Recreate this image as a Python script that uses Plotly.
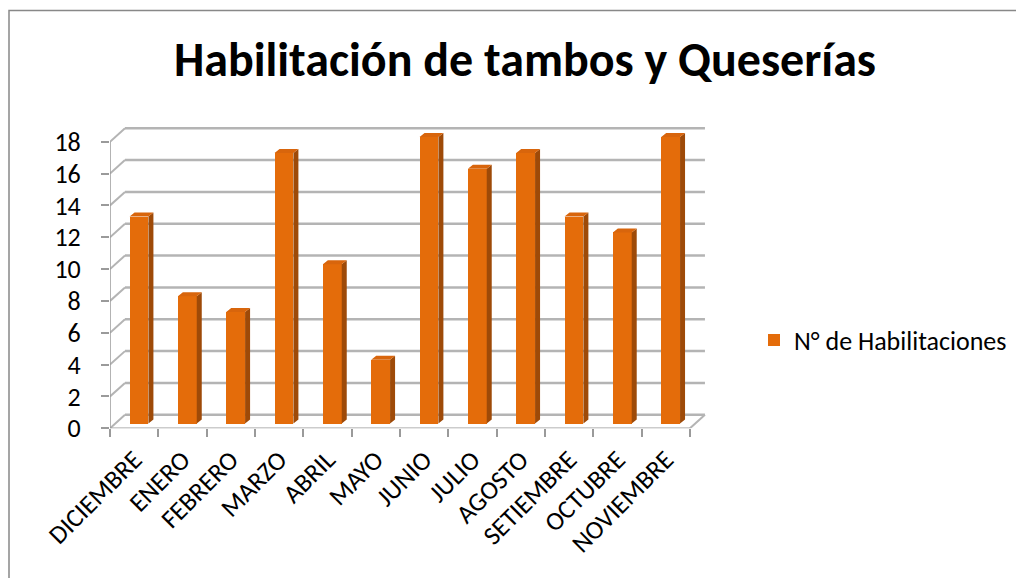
import plotly.graph_objects as go

# ---- data ----
categories = ["DICIEMBRE", "ENERO", "FEBRERO", "MARZO", "ABRIL", "MAYO",
              "JUNIO", "JULIO", "AGOSTO", "SETIEMBRE", "OCTUBRE", "NOVIEMBRE"]
values = [13, 8, 7, 17, 10, 4, 18, 16, 17, 13, 12, 18]
y_ticks = [0, 2, 4, 6, 8, 10, 12, 14, 16, 18]
series_name = "N° de Habilitaciones"
title_text = "Habilitación de tambos y Queserías"

# ---- geometry / style ----
W, H = 1024, 578
OX, OY = 8, 8         # page body margin compensation
FONT = "Carlito, Lato, 'Liberation Sans', sans-serif"
PX_X = 48.33          # px per category
PX_Y = 15.92          # px per unit
X0_PX = 110 - OX      # left of plot (category 0)
Y0_PX = 428.3 - OY    # value 0
X_RANGE = [0, 12.4]
Y_TOP_PX = 100 - OY
Y_RANGE = [0, (Y0_PX - Y_TOP_PX) / PX_Y]
DX = 15 / PX_X        # back-wall depth offset
DY = 13.5 / PX_Y
OFF = 0.3             # bar front base offset
BAR_W = 0.39
BAR_POS = 0.6
SDX = 5 / PX_X
SDY = 4 / PX_Y

FRONT = "#E46C0A"
SIDE = "#9E4A08"
TOP = "#D8650C"
GRID = "#B4B4B4"
AXIS = "#9A9A9A"

n = len(categories)
xc = [i + BAR_POS for i in range(n)]

fig = go.Figure()

sx, sy, tx, ty = [], [], [], []
for c, v in zip(xc, values):
    xl, xr = c - BAR_W / 2, c + BAR_W / 2
    sx += [xr, xr + SDX, xr + SDX, xr, xr, None]
    sy += [OFF, OFF + SDY, OFF + v + SDY, OFF + v, OFF, None]
    tx += [xl, xr, xr + SDX, xl + SDX, xl, None]
    ty += [OFF + v, OFF + v, OFF + v + SDY, OFF + v + SDY, OFF + v, None]

fig.add_trace(go.Scatter(x=sx, y=sy, fill="toself", fillcolor=SIDE, mode="lines",
                         line=dict(width=0, color=SIDE), showlegend=False, hoverinfo="skip"))
fig.add_trace(go.Scatter(x=tx, y=ty, fill="toself", fillcolor=TOP, mode="lines",
                         line=dict(width=0, color=TOP), showlegend=False, hoverinfo="skip"))
fig.add_trace(go.Bar(x=xc, y=values, base=OFF, width=BAR_W, name=series_name,
                     marker=dict(color=FRONT, line=dict(width=0)), showlegend=True))

shapes = []
for v in y_ticks:
    shapes.append(dict(type="line", xref="x", yref="y", x0=0, y0=v, x1=DX, y1=v + DY,
                       line=dict(color=GRID, width=2), layer="below"))
    shapes.append(dict(type="line", xref="x", yref="y", x0=DX, y0=v + DY, x1=n + DX, y1=v + DY,
                       line=dict(color=GRID, width=2.5), layer="below"))
shapes.append(dict(type="line", xref="x", yref="y", x0=n, y0=0, x1=n + DX, y1=DY,
                   line=dict(color=GRID, width=2), layer="below"))
shapes.append(dict(type="line", xref="x", yref="y", x0=0, y0=0, x1=0, y1=max(y_ticks),
                   line=dict(color=AXIS, width=1.5), layer="below"))
shapes.append(dict(type="line", xref="x", yref="y", x0=0, y0=0, x1=n, y1=0,
                   line=dict(color=AXIS, width=1.5), layer="below"))
shapes.append(dict(type="rect", xref="paper", yref="paper", x0=1 / W, y0=-0.05, x1=1.05,
                   y1=1 - 2.5 / H,
                   line=dict(color="#888888", width=1.5), fillcolor="rgba(0,0,0,0)"))

x_dom = [X0_PX / W, (X0_PX + (X_RANGE[1] - X_RANGE[0]) * PX_X) / W]
y_dom = [(H - Y0_PX) / H, (H - Y_TOP_PX) / H]

fig.update_layout(
    width=W, height=H,
    margin=dict(l=0, r=0, t=0, b=0, autoexpand=False),
    paper_bgcolor="white", plot_bgcolor="white",
    font=dict(family=FONT, color="black"),
    title=dict(text="<b>" + title_text + "</b>", x=(525 - OX) / W, xanchor="center",
               xref="container", yref="container",
               y=1 - (59 - OY) / H, yanchor="middle",
               font=dict(size=48, family=FONT, color="black")),
    xaxis=dict(domain=x_dom, range=X_RANGE, showgrid=False, zeroline=False, showline=False,
               tickmode="array", tickvals=[i + 0.5 for i in range(n)], ticktext=categories,
               ticks="", tickangle=-45, tickfont=dict(size=26, family=FONT, color="black"),
               ticklabelstandoff=10,
               minor=dict(tick0=0, dtick=1, ticks="outside", ticklen=8, tickcolor=AXIS,
                          tickwidth=1.5, showgrid=False),
               automargin=False, fixedrange=True),
    yaxis=dict(domain=y_dom, range=Y_RANGE, showgrid=False, zeroline=False, showline=False,
               tickmode="array", tickvals=y_ticks, ticks="outside", ticklen=8, tickcolor=AXIS,
               tickwidth=1.5, tickfont=dict(size=26, family=FONT, color="black"),
               ticklabelstandoff=15, automargin=False, fixedrange=True),
    legend=dict(x=(754 - OX) / W, xanchor="left", y=1 - (340 - OY) / H, yanchor="middle",
                xref="container", yref="container",
                font=dict(size=26, family=FONT, color="black"), bgcolor="rgba(0,0,0,0)",
                itemsizing="constant"),
    shapes=shapes,
    bargap=0,
)

fig.write_html("out.html")
